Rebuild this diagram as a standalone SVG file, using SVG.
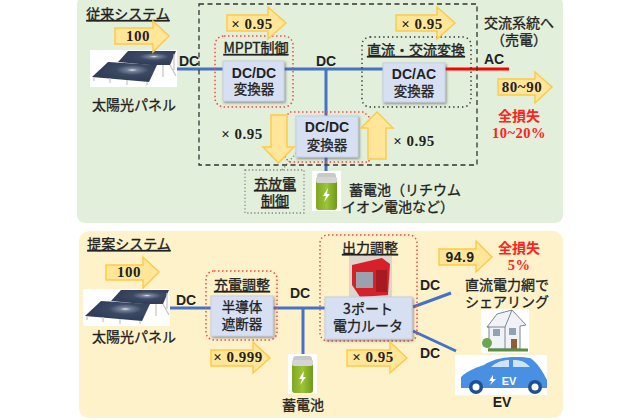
<svg xmlns="http://www.w3.org/2000/svg" width="640" height="420" viewBox="0 0 640 420">
<style>
text{font-family:"Liberation Sans","Noto Sans CJK JP",sans-serif;fill:#222;text-anchor:middle}
.j{font-size:14px;font-family:"Noto Sans CJK JP","Liberation Sans",sans-serif;stroke:#222;stroke-width:.3}
.s{font-size:13.5px}
.u{text-decoration:underline;font-size:14px;font-family:"Noto Sans CJK JP",sans-serif;stroke:#222;stroke-width:.35}
.dc{font-size:14px;font-weight:700;font-family:"Liberation Sans",sans-serif}
.n{font-size:15px;font-weight:700;font-family:"Liberation Serif",serif;letter-spacing:.5px}
.r{fill:#f22;font-size:14px;font-weight:700;font-family:"Noto Sans CJK JP",sans-serif}
.rs{fill:#f22;font-size:14.5px;font-weight:700;font-family:"Liberation Serif",serif;letter-spacing:.5px}
.box{fill:#d6e0f2;stroke:#c5d0e2;stroke-width:1;filter:url(#sh)}
.arr{fill:#ffe699;stroke:#ffc947;stroke-width:1.4}
.rd{fill:none;stroke:#f44;stroke-width:1.5;stroke-dasharray:1.5 2.5}
.bd{fill:none;stroke:#333;stroke-width:1.4;stroke-dasharray:1.4 3}
.gd{fill:none;stroke:#888;stroke-width:1.3;stroke-dasharray:1.3 2.2}
.bl{stroke:#4472c4;stroke-width:3;fill:none}
</style>
<defs>
<filter id="sh" x="-10%" y="-10%" width="125%" height="130%"><feDropShadow dx="1.2" dy="1.5" stdDeviation="0.8" flood-color="#555" flood-opacity=".6"/></filter>
<radialGradient id="gl" cx=".62" cy=".4" r=".5"><stop offset="0" stop-color="#e0e5ea"/><stop offset=".16" stop-color="#77839a"/><stop offset=".5" stop-color="#3c4963"/><stop offset="1" stop-color="#333f5a"/></radialGradient>
<linearGradient id="bg" x1="0" x2="1" y1="0" y2="0"><stop offset="0" stop-color="#7fa820"/><stop offset=".5" stop-color="#9cc43a"/><stop offset="1" stop-color="#6f9a18"/></linearGradient>
<symbol id="solar" viewBox="0 0 87 37" width="87" height="37">
<rect width="87" height="37" fill="#fff"/>
<polygon points="28,12 38,1 86,1 80,15 60,15" fill="url(#gl)"/>
<polygon points="2,27 18,12 67,15 59,32" fill="url(#gl)"/>
<path d="M4,27V31M20,28V33M37,30V35M57,32V35M73,15V27M84,4V20M80,15L86,26" stroke="#c4c4c4" stroke-width="1.2" fill="none"/>
</symbol>
<symbol id="bat" viewBox="0 0 29 40" width="29" height="40">
<rect width="29" height="40" fill="#fff"/>
<rect x="5" y="2" width="19" height="8" rx="3" fill="#c9c9c9"/>
<rect x="4" y="6" width="21" height="33" rx="3" fill="url(#bg)"/>
<rect x="4" y="6" width="21" height="6" rx="2" fill="#d5d5d5"/>
<polygon points="16,17 11,25 14,25 12,31 18,23 15,23" fill="#fff"/>
</symbol>
</defs>

<rect x="77" y="-4" width="486" height="227" rx="8" fill="#e2efda"/>
<rect x="79" y="231" width="484" height="187" rx="10" fill="#fef2cb"/>

<g id="connectors">
<path class="bl" d="M177,69H383M326,69V116M326,157V175"/>
<path d="M445,69H509" stroke="#f00" stroke-width="3" fill="none"/>
<path class="bl" d="M169,308H325M303,308V354M413,307L451,293M413,331L456,351"/>
<path d="M282,170L303,145" class="gd"/>
</g>

<g id="frames">
<rect x="199" y="4" width="278" height="161" fill="none" stroke="#333" stroke-width="1.3" stroke-dasharray="5 3.500"/>
<rect x="215" y="36" width="78" height="71" rx="9" class="rd"/>
<path d="M290,112H364L369,117V162H290L285,158V117Z" class="rd"/>
<rect x="362" y="37" width="109" height="70" rx="8" class="bd"/>
<rect x="245" y="170" width="59" height="43" class="gd"/>
<rect x="206" y="271" width="71" height="69" rx="8" class="rd"/>
<rect x="320" y="235" width="97" height="106" rx="8" class="rd"/>
</g>

<g id="top-system">
<text class="u" x="128" y="19">従来システム</text>
<g id="solar1"><use href="#solar" x="90" y="50"/><text class="j" x="134" y="110">太陽光パネル</text></g>
<g id="a100"><path class="arr" d="M115,28H153V21L169,36L153,52V44H115Z"/><text class="n" x="138" y="41">100</text></g>
<text class="dc" x="189" y="66">DC</text>
<g id="a1"><path class="arr" d="M227,15H268V7L286,23L268,39V31H227Z"/><text class="n" x="252" y="29">× 0.95</text></g>
<g id="mppt"><text class="u" x="256" y="53">MPPT制御</text><rect class="box" x="223" y="61" width="61" height="40"/><text class="dc" x="254" y="78">DC/DC</text><text class="j s" x="254" y="94">変換器</text></g>
<text class="dc" x="326" y="66">DC</text>
<g id="a2"><path class="arr" d="M396,15H437V7L455,23L437,39V31H396Z"/><text class="n" x="422" y="29">× 0.95</text></g>
<g id="inv"><text class="u" x="416" y="55">直流・交流変換</text><rect class="box" x="383" y="63" width="62" height="39"/><text class="dc" x="414" y="79">DC/AC</text><text class="j s" x="414" y="96">変換器</text></g>
<text class="dc" x="494" y="64">AC</text>
<text class="j" x="519" y="28">交流系統へ<tspan x="519" dy="17">（売電）</tspan></text>
<g id="a3"><path class="arr" d="M498,79H535V72L552,87L535,103V95H498Z"/><text class="n" x="522" y="92">80~90</text></g>
<text class="r" x="519" y="121">全損失<tspan class="rs" x="519" dy="17">10~20%</tspan></text>
<g id="a4"><path class="arr" d="M271,115H287V147H294L278.500,163L263,147H271Z"/></g>
<text class="n" x="242" y="139">× 0.95</text>
<g id="bdc"><rect class="box" x="296" y="116" width="62" height="41"/><text class="dc" x="327" y="132">DC/DC</text><text class="j s" x="327" y="150">変換器</text></g>
<g id="a5"><path class="arr" d="M368,159H386V128H393L377,112L361,128H368Z"/></g>
<text class="n" x="414" y="146">× 0.95</text>
<g id="cc"><text class="u" x="275" y="189">充放電<tspan x="275" dy="17">制御</tspan></text></g>
<g id="bat1"><use href="#bat" x="312" y="171"/></g>
<text class="j" x="405" y="195">蓄電池（リチウム<tspan x="398" dy="17">イオン電池など）</tspan></text>
</g>

<g id="bottom-system">
<text class="u" x="129" y="249">提案システム</text>
<g id="a6"><path class="arr" d="M106,265H143V257L159,272L143,288V280H106Z"/><text class="n" x="129" y="277">100</text></g>
<g id="solar2"><use href="#solar" x="83" y="289"/><text class="j" x="134" y="342">太陽光パネル</text></g>
<text class="dc" x="186" y="305">DC</text>
<g id="ss"><text class="u" x="242" y="290">充電調整</text><rect class="box" x="211" y="296" width="62" height="40"/><text class="j s" x="242" y="312">半導体<tspan x="242" dy="17">遮断器</tspan></text></g>
<text class="dc" x="300" y="298">DC</text>
<g id="a7"><path class="arr" d="M211,350H253V342L270,358L253,373V366H211Z"/><text class="n" x="238" y="362">× 0.999</text></g>
<g id="bat2"><use href="#bat" x="288" y="354"/><text class="j" x="303" y="410">蓄電池</text></g>
<g id="router"><text class="u" x="370" y="253">出力調整</text>
<rect x="349" y="256" width="43" height="41" fill="#dcd6cc"/><path d="M352,265L382,258L390,264L388,295L360,297L352,285Z" fill="#d8202a"/><rect x="356" y="272" width="17" height="16" fill="#9aa3ad"/><rect x="376" y="270" width="11" height="22" fill="#a81a22"/>
<rect class="box" x="325" y="297" width="87" height="42"/><text class="j" x="368" y="314">3ポート<tspan x="368" dy="17">電力ルータ</tspan></text></g>
<text class="dc" x="430" y="290">DC</text><text class="dc" x="430" y="358">DC</text>
<g id="a8"><path class="arr" d="M347,350H390V342L407,358L390,373V366H347Z"/><text class="n" x="373" y="362">× 0.95</text></g>
<g id="a9"><path class="arr" d="M439,249H476V241L492,257L476,272V265H439Z"/><text class="n" x="460" y="262" style="font-family:'Liberation Sans',sans-serif;font-size:14px">94.9</text></g>
<text class="r" x="519" y="253">全損失<tspan class="rs" x="519" dy="17">5%</tspan></text>
<text class="j" x="507" y="290">直流電力網で<tspan x="507" dy="17">シェアリング</tspan></text>
<g id="house"><rect x="481" y="309" width="48" height="44" fill="#fff"/><polygon points="487,327 497,314 512,310 526,325 520,326 520,349 489,349 489,327" fill="#f1f2f5" stroke="#77889a"/><path d="M487,327H505L512,310M505,327V349" fill="none" stroke="#77889a"/><rect x="493" y="329" width="7" height="7" fill="#8fa3b5"/><rect x="509" y="328" width="7" height="7" fill="#8fa3b5"/><rect x="511" y="339" width="6" height="10" fill="#8b5e3c"/><circle cx="487" cy="343" r="5" fill="#6aa84f"/><path d="M488,350H528" stroke="#5a8f3c" stroke-width="3"/></g>
<g id="ev"><rect x="455" y="355" width="92" height="40" fill="#fff"/>
<path d="M461,388V377C468,370 478,367 484,365C496,356 520,356 530,358C537,362 543,372 547,380V388Z" fill="#4a90e2"/><path d="M491,367C497,361 505,360 509,360V367ZM513,360C520,360 525,361 530,367H513Z" fill="#cfe4f8"/><circle cx="476" cy="387" r="7" fill="#1f4f8f"/><circle cx="476" cy="387" r="3.500" fill="#fff"/><circle cx="535" cy="387" r="7" fill="#1f4f8f"/><circle cx="535" cy="387" r="3.500" fill="#fff"/><text x="509" y="385" style="font-size:11px;font-weight:700;fill:#fff">EV</text><path d="M493,375L489,381H492L490,385L496,379H493Z" fill="#fff"/></g>
<text class="dc" x="502" y="407">EV</text>
</g>
</svg>
